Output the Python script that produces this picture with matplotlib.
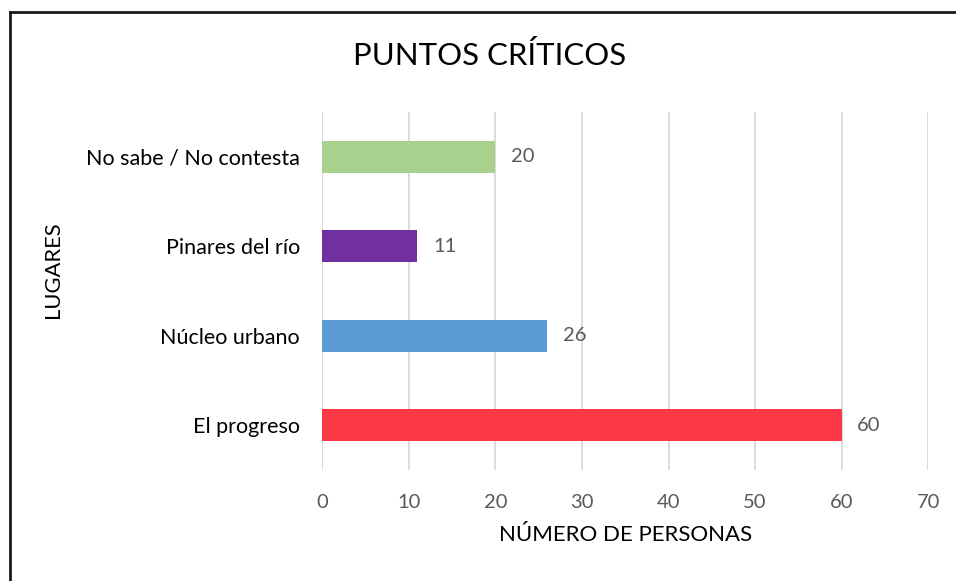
import matplotlib.pyplot as plt
from matplotlib.lines import Line2D

plt.rcParams['font.family'] = ['Lato', 'DejaVu Sans']

lugares = ['El progreso', 'Núcleo urbano', 'Pinares del río', 'No sabe / No contesta']
personas = [60, 26, 11, 20]
colores = ['#FC3847', '#5B9BD5', '#7030A0', '#A9D18E']
ticks_x = [0, 10, 20, 30, 40, 50, 60, 70]

fig = plt.figure(figsize=(9.56, 5.81), dpi=100)
ax = fig.add_axes([0.337, 0.191, 0.634, 0.616])

ax.barh(range(len(lugares)), personas, height=0.36, color=colores, zorder=3)
for i, v in enumerate(personas):
    ax.text(v + 1.8, i, str(v), va='center', ha='left', fontsize=14.5, color='#595959')

ax.set_xlim(0, 70)
ax.set_ylim(-0.5, len(lugares) - 0.5)
ax.set_xticks(ticks_x)
ax.set_yticks(range(len(lugares)))
ax.set_yticklabels(lugares, fontsize=15.5, color='black')
ax.tick_params(axis='x', labelsize=14.5, colors='#595959', length=0, pad=17)
ax.tick_params(axis='y', length=0, pad=16)
ax.grid(axis='x', color='#D9D9D9', linewidth=1.3, zorder=0)
for s in ax.spines.values():
    s.set_visible(False)

ax.set_xlabel('NÚMERO DE PERSONAS', fontsize=16, labelpad=10)
ax.set_ylabel('LUGARES', fontsize=15.8)
ax.yaxis.set_label_coords(-0.427, 0.559)
fig.text(0.5125, 0.904, 'PUNTOS CRÍTICOS', ha='center', va='center', fontsize=22.4)

# marco exterior (solo se ve arriba y a la izquierda)
fig.add_artist(Line2D([0.010, 0.010], [0, 0.979], color='#1a1a1a', linewidth=2, transform=fig.transFigure))
fig.add_artist(Line2D([0.010, 1.0], [0.979, 0.979], color='#1a1a1a', linewidth=2, transform=fig.transFigure))

fig.savefig('out.png', dpi=100)
